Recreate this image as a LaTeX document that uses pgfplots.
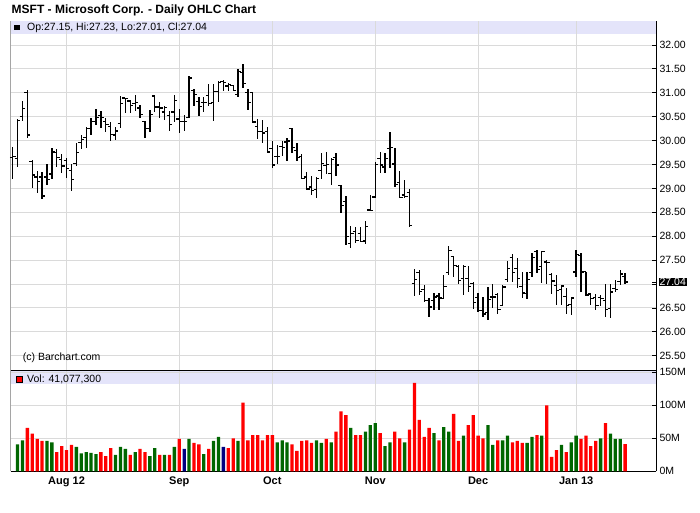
\documentclass[border=0pt]{standalone}
\usepackage{pgfplots}
\pgfplotsset{compat=1.18}
\usepackage{pgfplotstable}
\usepackage{fontspec}
\setmainfont{Liberation Sans}
\definecolor{band}{RGB}{228,228,250}
\definecolor{gridc}{RGB}{218,218,218}
\definecolor{vred}{RGB}{255,0,0}
\definecolor{vgreen}{RGB}{0,102,0}
\definecolor{vnavy}{RGB}{0,0,128}
\pgfdeclareplotmark{openL}{\pgfpathmoveto{\pgfqpoint{-2.9pt}{0pt}}\pgfpathlineto{\pgfqpoint{0pt}{0pt}}\pgfusepathqstroke}
\pgfdeclareplotmark{closeR}{\pgfpathmoveto{\pgfqpoint{0pt}{0pt}}\pgfpathlineto{\pgfqpoint{2.9pt}{0pt}}\pgfusepathqstroke}
\pgfdeclareplotmark{nothing}{}
\pgfplotstableread{
i O H L C
0 29.64 29.87 29.19 29.66
1 29.62 30.45 29.45 30.42
2 30.50 30.83 30.40 30.67
3 31.00 31.06 30.05 30.12
4 29.57 29.59 29.00 29.28
5 29.24 29.36 28.90 29.15
6 29.24 29.34 28.77 28.84
7 29.24 29.50 29.07 29.18
8 29.30 29.84 29.19 29.76
9 29.75 29.82 29.45 29.64
10 29.60 29.71 29.33 29.47
11 29.59 29.63 29.21 29.41
12 29.38 29.52 28.95 29.19
13 29.52 29.94 29.47 29.75
14 29.96 30.11 29.82 30.02
15 30.07 30.28 29.84 30.26
16 30.26 30.48 30.12 30.40
17 30.40 30.66 30.33 30.49
18 30.52 30.61 30.26 30.48
19 30.40 30.47 30.19 30.34
20 30.29 30.38 30.00 30.13
21 30.12 30.29 30.01 30.20
22 30.36 30.93 30.26 30.78
23 30.89 30.90 30.57 30.88
24 30.83 30.85 30.57 30.74
25 30.78 30.95 30.61 30.80
26 30.68 30.74 30.47 30.54
27 30.40 30.41 30.06 30.26
28 30.26 30.64 30.17 30.55
29 30.93 30.95 30.59 30.70
30 30.70 30.80 30.47 30.68
31 30.60 30.73 30.44 30.69
32 30.53 30.61 30.20 30.33
33 30.60 30.96 30.39 30.84
34 30.45 30.66 30.16 30.40
35 30.40 30.54 30.21 30.40
36 30.49 31.36 30.47 31.31
37 31.05 31.08 30.72 30.96
38 30.82 30.91 30.51 30.72
39 30.79 30.91 30.60 30.79
40 30.94 31.19 30.72 30.78
41 30.80 31.19 30.40 31.02
42 31.03 31.24 30.80 31.21
43 31.23 31.26 31.03 31.21
44 31.14 31.21 31.03 31.18
45 31.15 31.17 31.03 31.05
46 30.96 31.49 30.91 31.45
47 31.43 31.60 31.09 31.19
48 31.00 31.08 30.63 30.79
49 31.00 31.00 30.37 30.39
50 30.30 30.45 30.04 30.19
51 30.19 30.43 29.95 30.16
52 30.19 30.28 29.74 29.76
53 29.83 30.00 29.43 29.49
54 29.67 29.90 29.51 29.66
55 29.88 30.00 29.67 29.86
56 29.97 30.06 29.57 29.99
57 30.25 30.27 29.74 29.85
58 29.79 29.94 29.57 29.64
59 29.67 29.73 29.19 29.21
60 29.24 29.34 28.96 28.99
61 29.03 29.26 28.87 28.95
62 28.98 29.24 28.79 29.20
63 29.38 29.74 29.19 29.52
64 29.48 29.76 29.31 29.50
65 29.31 29.64 29.07 29.60
66 29.64 29.74 29.25 29.49
67 29.06 29.08 28.48 28.64
68 28.72 28.84 27.82 28.00
69 27.85 28.21 27.76 28.05
70 28.10 28.20 27.86 27.91
71 28.05 28.20 27.87 27.89
72 27.90 28.31 27.84 28.21
73 28.55 28.86 28.52 28.54
74 28.82 29.56 28.80 29.50
75 29.62 29.77 29.32 29.49
76 29.45 29.74 29.32 29.63
77 29.83 30.19 29.42 29.86
78 29.51 29.84 29.02 29.08
79 29.12 29.37 28.79 28.81
80 28.86 29.18 28.81 28.83
81 28.92 28.98 28.19 28.22
82 27.01 27.31 26.75 27.09
83 27.24 27.30 26.77 26.84
84 26.89 26.98 26.63 26.66
85 26.66 26.70 26.32 26.52
86 26.65 26.82 26.45 26.73
87 26.75 26.82 26.45 26.71
88 26.70 27.19 26.68 26.95
89 27.24 27.79 27.19 27.70
90 27.58 27.59 27.15 27.39
91 27.37 27.40 27.01 27.08
92 27.12 27.40 26.78 27.36
93 27.12 27.38 26.84 26.95
94 27.01 27.05 26.47 26.62
95 26.72 26.82 26.42 26.44
96 26.45 26.73 26.32 26.37
97 26.40 26.93 26.25 26.68
98 26.73 27.00 26.49 26.73
99 26.78 26.82 26.38 26.46
100 26.55 26.98 26.53 26.94
101 27.10 27.49 27.05 27.33
102 27.55 27.63 27.05 27.24
103 27.33 27.54 26.91 27.11
104 26.95 27.26 26.70 26.81
105 26.80 27.26 26.68 27.10
106 27.24 27.64 27.14 27.56
107 27.68 27.71 27.22 27.31
108 27.36 27.70 27.03 27.68
109 27.46 27.50 27.01 27.45
110 27.20 27.24 26.80 27.06
111 26.97 27.19 26.56 26.86
112 26.89 26.98 26.56 26.96
113 26.74 26.91 26.37 26.55
114 26.57 26.73 26.35 26.71
115 27.25 27.72 27.15 27.62
116 27.60 27.65 26.84 27.25
117 27.26 27.26 26.74 26.77
118 26.79 26.82 26.56 26.69
119 26.72 26.80 26.46 26.55
120 26.72 26.77 26.53 26.70
121 26.65 27.01 26.30 26.46
122 26.49 27.00 26.28 26.83
123 26.90 27.08 26.84 26.89
124 27.05 27.29 26.98 27.21
125 27.15 27.23 27.01 27.04
}\ohlc
\pgfplotsset{
  panel/.style={
    scale only axis, width=645.3pt, xmin=-0.4, xmax=131.3,
    axis x line*=bottom, axis y line*=right,
    xtick={11,34,53,74,95,115},
    grid=major, grid style={gridc, line width=0.9pt},
    xtick style={draw=none},
    ytick style={black, line width=0.8pt},
    tick align=inside, major tick length=4pt,
    axis line style={black, line width=0.8pt},
    yticklabel style={font=\fontsize{10.5}{12}\selectfont, text=black},
    /pgf/number format/assume math mode=true,
    axis background/.style={path picture={\fill[band] (path picture bounding box.north west) rectangle ([yshift=-13pt]path picture bounding box.north east);}},
  }
}
\begin{document}
\begin{tikzpicture}
\useasboundingbox (0pt,0pt) rectangle (700pt,512pt);
\node[anchor=base west, inner sep=0pt, font=\bfseries\fontsize{12}{14}\selectfont] at (11.5pt,498pt) {MSFT - Microsoft Corp. - Daily OHLC Chart};
% price panel
\begin{axis}[panel,
  at={(10.7pt,141pt)}, anchor=south west, height=350pt,
  ymin=25.18, ymax=32.502,
  xticklabels={},
  x axis line style={line width=1.8pt},
  ytick={25.5,26,26.5,27,27.5,28,28.5,29,29.5,30,30.5,31,31.5,32},
  yticklabels={25.50,26.00,26.50,{},27.50,28.00,28.50,29.00,29.50,30.00,30.50,31.00,31.50,32.00},
  extra y ticks={27.04}, extra y tick labels={27.04},
  extra y tick style={grid=none, yticklabel style={fill=black, text=white, inner xsep=1pt, inner ysep=0.6pt, text height=7.4pt, text depth=0pt, xshift=2.4pt}},
]
\draw[black, line width=0.8pt] (rel axis cs:0,0) -- (rel axis cs:0,1);
\node[fill=black, inner sep=0pt, minimum size=5.6pt] at ([xshift=6pt,yshift=-6.7pt]rel axis cs:0,1) {};
\node[anchor=base west, inner sep=0pt, font=\fontsize{10.5}{12}\selectfont] at ([xshift=16.3pt,yshift=-10pt]rel axis cs:0,1) {Op:27.15, Hi:27.23, Lo:27.01, Cl:27.04};
\node[anchor=base west, inner sep=0pt, font=\fontsize{10.5}{12}\selectfont] at ([xshift=12pt,yshift=10.3pt]rel axis cs:0,0) {(c) Barchart.com};
\addplot[only marks, mark=nothing, black,
  error bars/.cd, y dir=both, y explicit, error mark=none,
  error bar style={draw=black, line width=1.3pt}]
  table[x=i, y=C, y error plus expr=\thisrow{H}-\thisrow{C}, y error minus expr=\thisrow{C}-\thisrow{L}] {\ohlc};
\addplot[only marks, mark=openL, mark options={line width=1.3pt, black}] table[x=i, y=O] {\ohlc};
\addplot[only marks, mark=closeR, mark options={line width=1.3pt, black}] table[x=i, y=C] {\ohlc};
\end{axis}
% volume panel
\begin{axis}[panel,
  at={(10.7pt,40.7pt)}, anchor=south west, height=100.3pt,
  ymin=0, ymax=152,
  ytick={0,50,100,150}, yticklabels={0M,50M,100M,150M},
  xticklabels={Aug 12,Sep,Oct,Nov,Dec,Jan 13},
  xticklabel style={font=\bfseries\fontsize{11}{13}\selectfont, anchor=base, yshift=-13pt},
]
\draw[black, line width=0.8pt] (rel axis cs:0,0) -- (rel axis cs:0,1);
\node[fill=vred, draw=black, line width=0.6pt, inner sep=0pt, minimum size=6pt] at ([xshift=8.3pt,yshift=-8pt]rel axis cs:0,1) {};
\node[anchor=base west, inner sep=0pt, font=\fontsize{10.5}{12}\selectfont] at ([xshift=16.3pt,yshift=-11.7pt]rel axis cs:0,1) {Vol: 41,077,300};
\addplot[ybar, bar width=3.3pt, bar shift=0pt, fill=vred, draw=none] coordinates {
(3,66) (4,57) (5,49) (6,46) (9,29) (10,38) (11,32) (12,40) (18,29) (19,23) (20,35) (24,25) (26,34) (27,29) (30,25) (32,25) (34,49) (37,43) (38,41) (40,34) (44,35) (45,50) (47,104) (48,47) (49,55) (50,55) (51,47) (52,55) (53,55) (57,41) (58,31) (59,46) (60,47) (61,43) (64,49) (66,60) (67,91) (68,85) (70,55) (71,55) (75,58) (78,60) (79,50) (81,63) (82,134) (83,78) (84,52) (85,66) (87,47) (90,87) (91,46) (93,70) (94,85) (95,54) (96,50) (99,47) (102,44) (103,46) (104,43) (107,55) (109,100) (110,22) (111,32) (113,29) (116,49) (117,54) (118,38) (119,46) (121,73) (125,41.08)
};
\addplot[ybar, bar width=3.3pt, bar shift=0pt, fill=vgreen, draw=none] coordinates {
(1,41) (2,47) (7,46) (8,44) (13,37) (14,27) (15,29) (16,28) (17,26) (21,25) (22,37) (23,34) (25,29) (28,23) (29,35) (31,25) (33,37) (36,49) (39,26) (41,46) (42,52) (46,46) (54,44) (55,47) (56,44) (62,47) (63,43) (65,44) (69,66) (72,60) (73,70) (74,73) (76,38) (77,44) (80,44) (86,58) (88,67) (89,60) (92,54) (97,70) (98,40) (100,47) (101,54) (105,43) (106,52) (108,54) (112,40) (114,44) (115,54) (120,50) (122,57) (123,49) (124,49)
};
\addplot[ybar, bar width=3.3pt, bar shift=0pt, fill=vnavy, draw=none] coordinates {
(35,34) (43,37)
};
\end{axis}
\end{tikzpicture}
\end{document}
